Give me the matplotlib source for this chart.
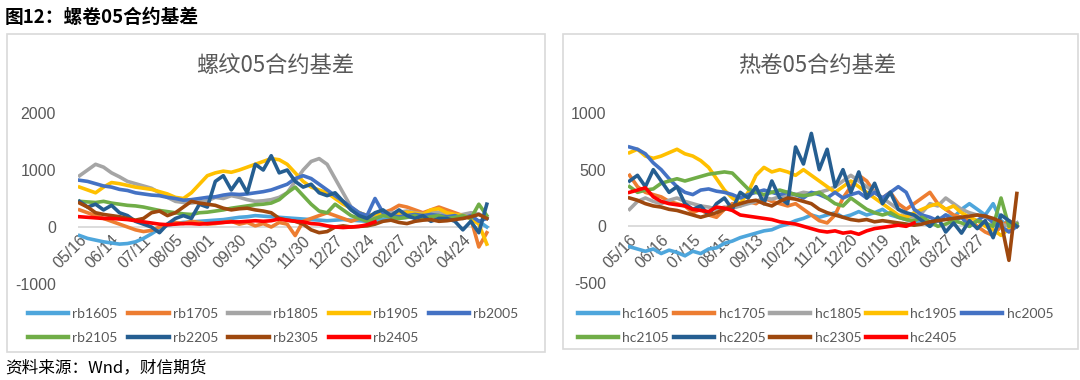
import numpy as np
import matplotlib
matplotlib.use("Agg")
import matplotlib.pyplot as plt
from matplotlib.patches import Rectangle

plt.rcParams['font.family'] = ['Noto Sans CJK SC', 'DejaVu Sans']

# ---- data: basis sampled every 5 trading days ----
STEP = 5
LABEL_EVERY = 20

rb_ticks = ['05/16', '06/14', '07/11', '08/05', '09/01', '09/30', '11/03',
            '11/30', '12/27', '01/24', '02/27', '03/24', '04/24']
hc_ticks = ['05/16', '06/16', '07/15', '08/15', '09/13', '10/21', '11/21',
            '12/20', '01/19', '02/24', '03/27', '04/27']

rb1605 = [-150, -200, -230, -260, -280, -300, -290, -260, -200, -120, -30, 30, 60,
          80, 90, 100, 110, 120, 130, 150, 170, 180, 200, 190, 180, 170, 160, 150,
          140, 130, 120, 110, 120, 130, 120, 110, 100, 120, 140, 150, 160, 170, 180,
          190, 200, 210, 220, 200, 190, 200, 100, 0]
rb1705 = [300, 250, 200, 150, 100, 50, 0, -50, -80, -60, 0, 50, 80, 60, 100, 80, 50,
          60, 80, 100, 50, 80, 20, 60, 0, 80, 50, -150, 100, 150, 200, 250, 200, 150,
          100, 150, 200, 150, 250, 300, 380, 350, 300, 250, 300, 350, 300, 250, 200,
          150, -350, -100]
rb1805 = [900, 1000, 1100, 1050, 950, 880, 800, 760, 720, 680, 600, 520, 450, 430,
          420, 440, 460, 520, 500, 550, 520, 480, 450, 460, 480, 520, 600, 800, 1000,
          1150, 1200, 1100, 850, 600, 350, 250, 200, 180, 220, 250, 260, 280, 250, 230,
          250, 260, 230, 200, 220, 250, 230, 150]
rb1905 = [700, 650, 600, 700, 780, 760, 730, 700, 680, 660, 620, 580, 520, 500, 600,
          750, 900, 950, 980, 960, 1000, 1050, 1100, 1150, 1200, 1180, 1100, 950, 800,
          700, 650, 600, 500, 400, 330, 250, 200, 220, 250, 200, 230, 260, 240, 220,
          300, 320, 250, 220, 200, 150, 50, -300]
rb2005 = [820, 800, 760, 720, 700, 660, 640, 600, 580, 560, 550, 520, 500, 470, 480,
          500, 520, 530, 560, 580, 570, 580, 600, 620, 650, 700, 750, 850, 900, 850,
          750, 650, 550, 450, 350, 250, 200, 500, 250, 200, 180, 200, 220, 200, 220,
          200, 180, 200, 150, 200, 100, 150]
rb2105 = [450, 440, 430, 450, 420, 400, 380, 370, 350, 320, 290, 270, 250, 230, 220,
          250, 260, 280, 300, 330, 350, 370, 390, 400, 420, 480, 600, 700, 550, 400,
          280, 250, 400, 300, 200, 150, 100, 150, 200, 180, 150, 170, 200, 150, 180,
          200, 150, 170, 200, 150, 400, 200]
rb2205 = [450, 350, 400, 300, 380, 250, 200, 100, 50, 0, -100, 50, 150, 200, 150,
          400, 350, 800, 900, 650, 850, 600, 1100, 1000, 1250, 950, 1000, 800, 700,
          750, 600, 550, 600, 450, 300, 200, 150, 250, 300, 200, 300, 200, 150, 200,
          100, 150, 150, 100, -50, 100, -100, 400]
rb2305 = [420, 350, 250, 220, 200, 180, 150, 120, 150, 250, 280, 200, 250, 350, 450,
          420, 400, 380, 330, 300, 320, 330, 300, 280, 250, 150, 120, 100, 50, -50,
          -100, -80, 0, 20, 0, 10, 20, 50, 100, 120, 80, 60, 100, 120, 130, 100, 110,
          130, 150, 180, 220, 150]
rb2405 = [180, 170, 160, 150, 150, 140, 130, 110, 90, 70, 50, 40, 50, 60, 60, 50, 60,
          70, 80, 90, 90, 100, 110, 100, 110, 140, 120, 100, 90, 60, 50, 20, 0, -10, 0,
          10, 40, 90]

hc1605 = [-180, -200, -220, -200, -240, -210, -230, -260, -220, -240, -200, -190,
          -150, -130, -100, -80, -60, -40, -30, 0, 20, 50, 70, 100, 80, 100, 120, 80,
          100, 130, 100, 120, 150, 100, 80, 60, 40, 50, 0, 50, 100, 80, 150, 200, 150,
          100, 200, 50, 0, 30]
hc1705 = [450, 350, 300, 280, 260, 220, 200, 180, 120, 150, 100, 80, 150, 200, 180,
          220, 200, 250, 220, 200, 180, 200, 150, 100, 50, 30, 100, 250, 350, 450, 400,
          300, 250, 300, 200, 150, 200, 250, 300, 200, 150, 100, 80, 50, 0, -50, -80,
          0, 50, 0]
hc1805 = [150, 220, 250, 220, 200, 230, 250, 220, 200, 180, 170, 150, 170, 160, 180,
          200, 220, 250, 240, 260, 270, 280, 300, 290, 300, 320, 350, 400, 450, 400,
          350, 300, 250, 200, 150, 100, 80, 120, 200, 180, 250, 200, 150, 120, 100, 80,
          50, 20, 0, 30]
hc1905 = [650, 680, 620, 600, 620, 650, 680, 640, 620, 580, 520, 420, 320, 250, 200,
          300, 450, 520, 480, 500, 480, 450, 500, 450, 400, 350, 300, 350, 400, 350,
          300, 250, 200, 150, 100, 80, 120, 150, 180, 200, 150, 180, 120, 80, 50, 0,
          -30, -80, -20, 0]
hc2005 = [700, 680, 640, 560, 500, 420, 350, 300, 280, 320, 330, 310, 300, 280, 250,
          280, 300, 320, 300, 280, 300, 280, 250, 300, 280, 250, 300, 250, 280, 300,
          250, 300, 250, 300, 350, 300, 150, 100, 80, 50, 100, 50, 80, 0, 50, 100, 30,
          0, -50, 0]
hc2105 = [350, 300, 320, 330, 380, 400, 420, 400, 420, 440, 460, 470, 480, 470, 400,
          330, 300, 280, 300, 320, 300, 280, 270, 280, 300, 250, 200, 180, 250, 200,
          150, 120, 100, 120, 80, 60, 50, 80, 40, 0, 20, 50, 30, 0, 50, 30, 0, 250, 0,
          20]
hc2205 = [400, 450, 350, 500, 400, 300, 350, 200, 150, 180, 100, 200, 250, 150, 300,
          250, 350, 200, 400, 250, 200, 700, 550, 820, 500, 680, 350, 500, 300, 480,
          250, 380, 200, 300, 150, 120, 100, 50, 0, 80, -50, 30, -60, 50, -20, 50,
          -100, 100, 50, 0]
hc2305 = [250, 230, 200, 180, 170, 150, 140, 120, 100, 80, 100, 120, 150, 180, 200,
          220, 230, 200, 180, 220, 250, 240, 220, 200, 150, 120, 100, 80, 60, 50, 60,
          40, 50, 40, 30, 20, 10, 20, 40, 50, 60, 70, 80, 90, 100, 90, 70, 40, -300,
          290]
hc2405 = [300, 320, 340, 260, 220, 200, 190, 180, 150, 140, 130, 170, 160, 140, 100,
          90, 80, 70, 60, 40, 30, 20, 0, -20, -40, -50, -40, -60, -50, -70, -40, -20,
          -10, 0, 10, 0, 30]

colors = ['#4EA6DC', '#ED7D31', '#A5A5A5', '#FFC000', '#4472C4',
          '#70AD47', '#255E91', '#9E480E', '#FF0000']
years = ['1605', '1705', '1805', '1905', '2005', '2105', '2205', '2305', '2405']
rb_series = [rb1605, rb1705, rb1805, rb1905, rb2005, rb2105, rb2205, rb2305, rb2405]
hc_series = [hc1605, hc1705, hc1805, hc1905, hc2005, hc2105, hc2205, hc2305, hc2405]

W, H = 1080, 380
fig = plt.figure(figsize=(W / 100, H / 100), dpi=100)

# panel frames
for x0, y0, x1, y1 in [(7, 34, 545, 352), (563, 34, 1078, 349)]:
    fig.add_artist(Rectangle((x0 / W, 1 - y1 / H), (x1 - x0) / W, (y1 - y0) / H,
                             transform=fig.transFigure, fill=False,
                             ec='#D9D9D9', lw=1.2))

fig.text(5 / W, 1 - 17 / H, '图12：螺卷05合约基差', fontsize=13.5,
         fontweight='bold', va='center', ha='left', color='black')
fig.text(5 / W, 1 - 368 / H, '资料来源：Wnd，财信期货', fontsize=12,
         va='center', ha='left', color='black', style='italic')


def draw(rect, series, prefix, ticks, ylim, yticks, title, title_x, leg_x, colsp, ncount):
    ax = fig.add_axes(rect)
    # category axis crosses at zero, so labels sit just under the zero line
    ax.spines['bottom'].set_position(('data', 0))
    handles = []
    for vals, c, y in zip(series, colors, years):
        x = np.arange(len(vals)) * STEP
        h, = ax.plot(x, vals, color=c, lw=2.6, solid_joinstyle='round',
                     label=prefix + y)
        handles.append(h)
    ax.axhline(0, color='#D9D9D9', lw=1.3, zorder=0)
    ax.set_xlim(-1, ncount)
    ax.set_ylim(*ylim)
    ax.set_yticks(yticks)
    ax.set_yticklabels([str(v) for v in yticks], fontsize=11.5, color='#595959',
                       family='Liberation Sans')
    ax.set_xticks(np.arange(len(ticks)) * LABEL_EVERY)
    ax.set_xticklabels(ticks, rotation=45, ha='right', rotation_mode='anchor',
                       fontsize=11.5, color='#595959', family='Liberation Sans')
    for s in ax.spines.values():
        s.set_visible(False)
    ax.tick_params(length=0)
    ax.tick_params(axis='y', pad=16)
    ax.tick_params(axis='x', pad=4)
    fig.text(title_x / W, 1 - 66 / H, title, fontsize=16, color='#595959',
             ha='center', va='center')
    order = [0, 5, 1, 6, 2, 7, 3, 8, 4]
    leg = fig.legend([handles[i] for i in order], [handles[i].get_label() for i in order],
                     loc='upper left', bbox_to_anchor=(leg_x / W, 1 - 308 / H),
                     ncol=5, frameon=False, borderpad=0, borderaxespad=0,
                     handlelength=2.9, handletextpad=0.3, columnspacing=colsp,
                     labelspacing=0.85, prop={'family': 'Lato', 'size': 10})
    for t in leg.get_texts():
        t.set_color('#595959')
    for l in leg.get_lines():
        l.set_linewidth(3.2)
    return ax


draw([78 / W, 1 - 284 / H, 412 / W, 171 / H], rb_series, 'rb', rb_ticks,
     (-1000, 2000), [-1000, 0, 1000, 2000], '螺纹05合约基差', 275, 28, 0.75, 257)
draw([628 / W, 1 - 283 / H, 392 / W, 170 / H], hc_series, 'hc', hc_ticks,
     (-500, 1000), [-500, 0, 500, 1000], '热卷05合约基差', 817, 578, 0.35, 247)

fig.savefig('out.png', dpi=100)
